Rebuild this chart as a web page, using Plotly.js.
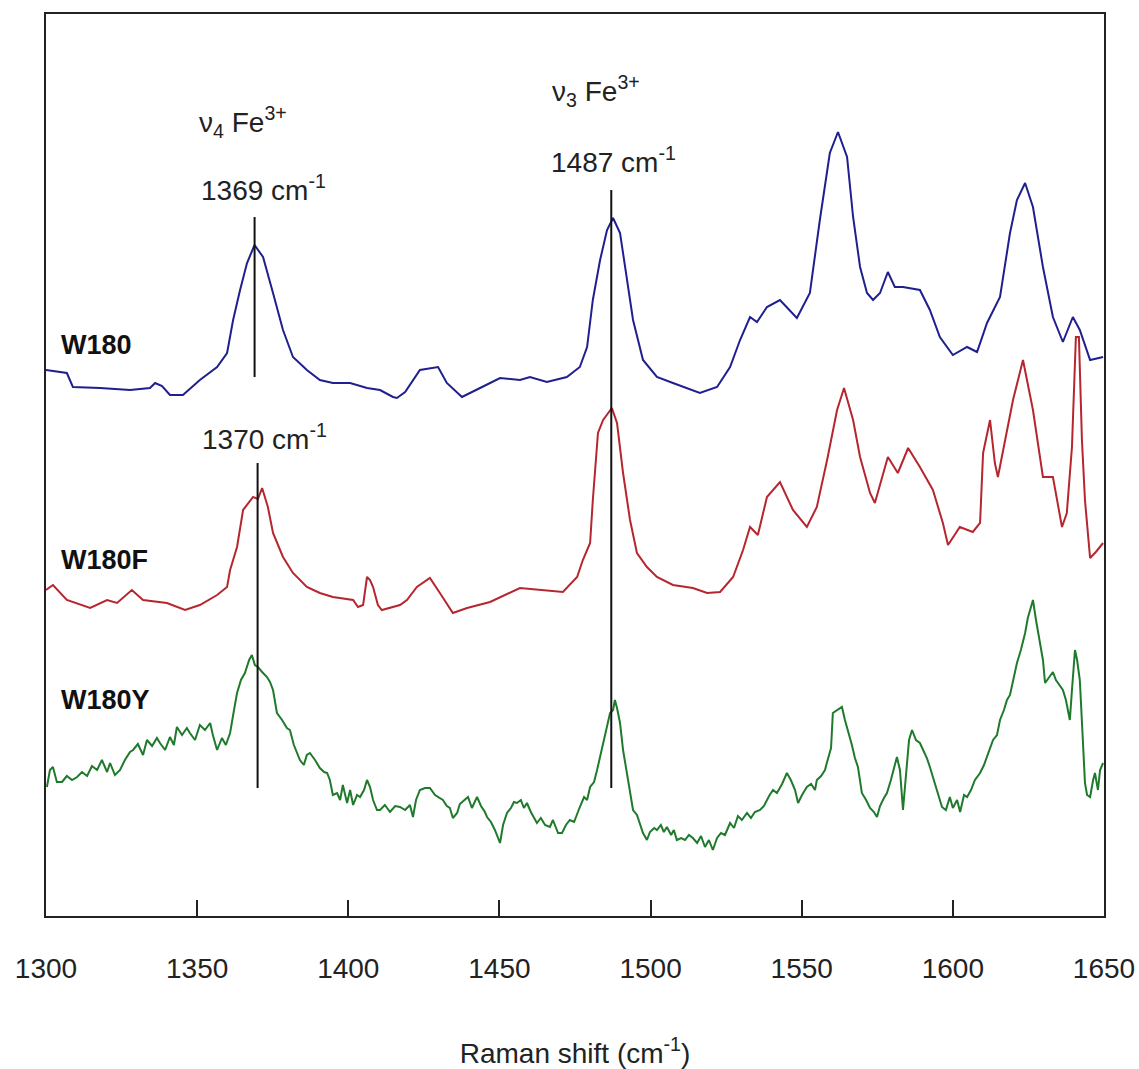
<!DOCTYPE html>
<html>
<head>
<meta charset="utf-8">
<script src="https://cdn.plot.ly/plotly-3.0.1.min.js"></script>
<style>
  html, body { margin: 0; padding: 0; background: #ffffff; }
  #chart { width: 1139px; height: 1069px; }
</style>
</head>
<body>
<div id="chart"></div>
<script>
// Resonance Raman spectra (arbitrary intensity, stacked) of W180 variants
const w180Shift = [1300, 1306.9, 1308.9, 1317.9, 1327.8, 1334.4, 1336.1, 1338.4, 1341.0, 1345.3, 1350.9, 1356.6, 1359.9, 1361.9, 1364.2, 1366.5, 1369, 1371.8, 1375.1, 1378.4, 1381.7, 1386.3, 1390.6, 1394.9, 1400.6, 1406.2, 1410.5, 1414.8, 1416.1, 1418.8, 1423.7, 1429.7, 1432.6, 1437.6, 1443.6, 1450.2, 1456.8, 1460.1, 1465.7, 1472.3, 1476.6, 1479.0, 1480.9, 1483.3, 1485.6, 1487.6, 1489.9, 1492.2, 1494.2, 1497.5, 1502.1, 1507.4, 1516.3, 1522.0, 1526.3, 1529.6, 1532.9, 1535.2, 1538.5, 1542.8, 1548.4, 1552.7, 1556.0, 1559.3, 1562.0, 1565.0, 1567.0, 1569.3, 1571.6, 1573.6, 1575.9, 1578.5, 1580.8, 1583.5, 1589.1, 1592.4, 1595.7, 1600.0, 1604.7, 1608.0, 1611.3, 1615.6, 1618.9, 1621.2, 1623.9, 1626.5, 1629.8, 1633.1, 1636.4, 1639.7, 1642.0, 1645.4, 1649.7];
const w180Int = [546, 543, 529, 528, 526, 528, 533, 530, 521, 521, 536, 549, 563, 596, 626, 653, 671, 659, 623, 586, 559, 546, 536, 533, 533, 528, 526, 519, 518, 524, 546, 549, 533, 519, 528, 538, 536, 539, 534, 539, 549, 569, 616, 656, 686, 698, 683, 639, 596, 556, 539, 533, 523, 529, 549, 576, 599, 594, 609, 616, 598, 623, 696, 763, 784, 759, 699, 649, 623, 616, 623, 644, 629, 629, 626, 606, 579, 561, 569, 564, 593, 619, 683, 716, 733, 709, 649, 599, 574, 599, 586, 556, 559];

const w180fShift = [1300, 1302.3, 1306.9, 1314.6, 1320.2, 1323.5, 1328.4, 1332.1, 1340.0, 1346.0, 1350.9, 1356.6, 1359.9, 1360.9, 1363.2, 1365.2, 1368.5, 1370.1, 1371.5, 1373.4, 1375.1, 1378.4, 1381.7, 1386.3, 1390.6, 1394.9, 1401.6, 1403.2, 1404.9, 1406.2, 1407.2, 1408.2, 1409.8, 1411.1, 1417.1, 1419.4, 1422.7, 1427.0, 1430.3, 1434.6, 1439.3, 1446.9, 1456.8, 1464.4, 1471.0, 1475.7, 1477.6, 1480.0, 1480.9, 1482.6, 1484.3, 1487.2, 1488.9, 1490.9, 1493.2, 1495.5, 1498.8, 1502.1, 1507.4, 1514.0, 1518.7, 1523.0, 1527.3, 1530.6, 1532.9, 1535.5, 1538.5, 1542.8, 1547.1, 1551.7, 1555.0, 1558.4, 1561.7, 1564.0, 1567.0, 1569.3, 1572.6, 1574.2, 1578.5, 1581.8, 1585.2, 1589.1, 1593.4, 1596.7, 1598.4, 1602.3, 1606.6, 1609.0, 1610.0, 1612.3, 1613.9, 1614.9, 1617.9, 1619.9, 1623.2, 1626.5, 1629.8, 1633.1, 1636.1, 1637.7, 1639.4, 1640.7, 1641.7, 1642.7, 1643.7, 1645.4, 1647.3, 1649.7];
const w180fInt = [326, 331, 316, 308, 316, 313, 326, 316, 313, 306, 311, 321, 329, 346, 369, 406, 419, 417, 428, 409, 383, 359, 343, 329, 323, 319, 316, 309, 311, 339, 336, 329, 311, 306, 311, 316, 329, 338, 323, 303, 308, 314, 328, 326, 324, 339, 356, 373, 416, 483, 496, 508, 493, 443, 396, 363, 349, 339, 331, 328, 323, 324, 339, 366, 389, 381, 419, 434, 406, 389, 409, 456, 506, 528, 496, 459, 423, 413, 459, 443, 468, 449, 426, 393, 371, 389, 384, 393, 463, 496, 453, 439, 483, 516, 556, 506, 439, 439, 389, 403, 469, 579, 579, 476, 416, 358, 364, 373];

const w180yShift = [1300.3, 1301.3, 1302.3, 1303.6, 1305.3, 1306.9, 1308.6, 1310.3, 1311.9, 1313.6, 1315.2, 1316.9, 1318.5, 1320.2, 1321.2, 1322.8, 1324.5, 1326.1, 1327.8, 1328.8, 1330.4, 1332.1, 1333.4, 1335.1, 1336.7, 1337.7, 1339.4, 1341.0, 1342.3, 1343.3, 1345.0, 1346.6, 1347.6, 1349.3, 1350.9, 1352.6, 1354.3, 1355.2, 1356.6, 1358.2, 1359.5, 1360.9, 1362.2, 1363.2, 1364.5, 1365.8, 1367.2, 1368.1, 1369.1, 1370.1, 1371.5, 1373.1, 1374.1, 1375.1, 1376.4, 1378.1, 1379.7, 1380.7, 1382.0, 1383.0, 1384.0, 1385.3, 1386.3, 1387.3, 1389.0, 1390.6, 1392.0, 1393.0, 1393.9, 1394.9, 1396.3, 1397.3, 1398.2, 1399.6, 1400.6, 1401.6, 1402.9, 1403.9, 1405.2, 1406.2, 1407.2, 1408.2, 1409.5, 1410.5, 1412.1, 1413.8, 1415.5, 1417.1, 1418.8, 1420.4, 1421.4, 1422.4, 1423.7, 1425.4, 1427.0, 1428.7, 1430.3, 1431.3, 1432.6, 1433.6, 1434.6, 1436.0, 1436.9, 1438.3, 1439.6, 1440.9, 1442.6, 1443.9, 1445.2, 1445.9, 1447.2, 1448.5, 1450.2, 1451.2, 1452.5, 1453.8, 1454.8, 1455.8, 1457.1, 1458.1, 1459.1, 1460.4, 1461.4, 1462.4, 1463.7, 1465.1, 1466.7, 1467.7, 1469.4, 1470.7, 1472.0, 1473.3, 1474.7, 1475.7, 1476.6, 1478.0, 1479.0, 1480.0, 1481.3, 1482.3, 1483.3, 1484.3, 1485.6, 1486.6, 1487.6, 1488.2, 1488.9, 1489.9, 1490.9, 1492.2, 1493.2, 1494.2, 1495.5, 1496.5, 1497.5, 1498.8, 1499.8, 1501.2, 1502.1, 1503.4, 1504.4, 1505.4, 1506.8, 1507.7, 1508.7, 1510.1, 1511.4, 1512.7, 1514.0, 1515.4, 1516.7, 1518.0, 1519.3, 1520.6, 1522.0, 1523.3, 1524.6, 1526.3, 1527.6, 1528.9, 1530.2, 1531.9, 1533.2, 1534.5, 1536.2, 1537.5, 1539.2, 1540.5, 1541.8, 1543.5, 1545.1, 1546.4, 1547.8, 1548.8, 1550.1, 1551.7, 1553.1, 1554.4, 1555.0, 1556.4, 1557.7, 1558.3, 1559.7, 1560.3, 1562.0, 1563.3, 1564.3, 1565.3, 1566.6, 1567.6, 1568.6, 1569.9, 1571.3, 1572.6, 1573.9, 1574.9, 1575.9, 1577.2, 1578.2, 1579.5, 1580.5, 1581.5, 1582.5, 1583.5, 1584.5, 1585.5, 1586.5, 1587.8, 1589.1, 1590.4, 1591.4, 1592.4, 1593.7, 1595.1, 1596.4, 1597.7, 1599.0, 1600.0, 1601.4, 1602.4, 1603.7, 1604.7, 1606.0, 1607.3, 1609.0, 1610.3, 1611.6, 1613.3, 1614.6, 1615.6, 1616.9, 1617.9, 1618.9, 1619.9, 1621.2, 1622.5, 1623.9, 1624.8, 1625.8, 1626.5, 1627.5, 1628.8, 1629.8, 1630.5, 1631.8, 1633.1, 1634.1, 1635.4, 1636.4, 1637.4, 1638.1, 1638.7, 1639.4, 1640.4, 1641.1, 1642.0, 1643.0, 1643.7, 1644.4, 1645.4, 1646.4, 1647.0, 1648.0, 1648.7, 1649.7];
const w180yInt = [129, 146, 149, 134, 134, 140, 136, 139, 144, 140, 150, 146, 156, 144, 153, 141, 146, 156, 164, 166, 172, 161, 176, 170, 178, 173, 166, 179, 171, 189, 181, 188, 183, 176, 191, 186, 193, 181, 166, 178, 171, 183, 206, 223, 236, 243, 256, 261, 251, 249, 244, 239, 234, 226, 203, 196, 188, 186, 171, 164, 156, 151, 161, 163, 156, 148, 144, 143, 136, 121, 123, 116, 131, 113, 126, 111, 121, 119, 126, 136, 129, 116, 106, 106, 111, 104, 110, 109, 106, 111, 99, 116, 126, 128, 128, 121, 118, 116, 110, 108, 98, 103, 112, 116, 119, 108, 119, 110, 104, 99, 94, 86, 73, 91, 103, 108, 114, 113, 116, 108, 113, 104, 98, 93, 98, 91, 89, 96, 83, 83, 91, 96, 94, 101, 109, 119, 116, 129, 134, 146, 159, 171, 189, 203, 206, 216, 208, 193, 166, 143, 128, 106, 101, 91, 83, 76, 84, 88, 86, 91, 84, 89, 81, 86, 76, 78, 76, 81, 78, 73, 80, 69, 76, 66, 78, 83, 81, 93, 88, 100, 96, 103, 98, 104, 106, 110, 120, 126, 123, 132, 143, 136, 126, 113, 121, 129, 132, 126, 136, 140, 146, 153, 168, 203, 206, 209, 196, 186, 171, 158, 149, 123, 116, 108, 104, 99, 110, 118, 123, 136, 148, 159, 146, 106, 141, 176, 186, 176, 173, 164, 158, 149, 136, 121, 109, 106, 119, 108, 116, 104, 121, 119, 126, 136, 143, 151, 161, 176, 181, 196, 206, 216, 221, 236, 253, 266, 283, 298, 308, 316, 296, 273, 256, 233, 238, 244, 236, 231, 226, 216, 204, 196, 226, 266, 256, 236, 176, 133, 121, 119, 136, 143, 126, 146, 153];

// Band assignments: position (cm-1) and vertical extent of the marker lines
const markerShift = [1369, 1370, 1487];
const markerFrom  = [539, 128, 128];
const markerTo    = [699, 453, 726];

const tickVals = [1300, 1350, 1400, 1450, 1500, 1550, 1600, 1650];

const FONT = 'Liberation Sans, Arial, Helvetica, sans-serif';
const FS = 28;
const BLUE = '#1f1f8f';
const RED = '#b5262e';
const GREEN = '#1f7a2c';

const traces = [
  { x: w180Shift, y: w180Int, name: 'W180', mode: 'lines', line: { color: BLUE, width: 2 } },
  { x: w180fShift, y: w180fInt, name: 'W180F', mode: 'lines', line: { color: RED, width: 2 } },
  { x: w180yShift, y: w180yInt, name: 'W180Y', mode: 'lines', line: { color: GREEN, width: 2 } }
];

const shapes = markerShift.map((s, i) => ({
  type: 'line', xref: 'x', yref: 'y',
  x0: s, x1: s, y0: markerFrom[i], y1: markerTo[i],
  line: { color: '#111111', width: 2 }
}));

const txt = (x, y, text, opts = {}) => Object.assign({
  x, y, xref: 'x', yref: 'y', text, showarrow: false,
  font: { family: FONT, size: FS, color: '#222222' }
}, opts);

const bold = { family: FONT, size: 27, color: '#111111', weight: 'bold' };

const annotations = [
  txt(1365.2, 794, 'ν<sub>4</sub> Fe<sup>3+</sup>'),
  txt(1371.8, 728, '1369 cm<sup>-1</sup>'),
  txt(1481.9, 825, 'ν<sub>3</sub> Fe<sup>3+</sup>'),
  txt(1487.6, 756, '1487 cm<sup>-1</sup>'),
  txt(1372.4, 479, '1370 cm<sup>-1</sup>'),
  txt(1304.2, 571, '<b>W180</b>', { xanchor: 'left', font: bold }),
  txt(1304.2, 356, '<b>W180F</b>', { xanchor: 'left', font: bold }),
  txt(1304.2, 216, '<b>W180Y</b>', { xanchor: 'left', font: bold })
];

const layout = {
  width: 1139, height: 1069,
  margin: { l: 46, r: 35, t: 14, b: 153 },
  paper_bgcolor: '#ffffff', plot_bgcolor: '#ffffff',
  showlegend: false,
  font: { family: FONT, size: FS, color: '#222222' },
  xaxis: {
    range: [1300, 1650], tickvals: tickVals, ticktext: tickVals.map(String),
    ticks: 'inside', ticklen: 16, tickwidth: 2, tickcolor: '#222222',
    showline: true, mirror: true, linecolor: '#222222', linewidth: 2,
    showgrid: false, zeroline: false,
    ticklabelstandoff: 26,
    tickfont: { family: FONT, size: FS, color: '#222222' },
    title: { text: 'Raman shift (cm<sup>-1</sup>)', standoff: 62,
             font: { family: FONT, size: FS, color: '#222222' } }
  },
  yaxis: {
    range: [0, 902], showticklabels: false, ticks: '',
    showline: true, mirror: true, linecolor: '#222222', linewidth: 2,
    showgrid: false, zeroline: false
  },
  shapes, annotations
};

Plotly.newPlot('chart', traces, layout, { displayModeBar: false, staticPlot: true });
</script>
</body>
</html>
